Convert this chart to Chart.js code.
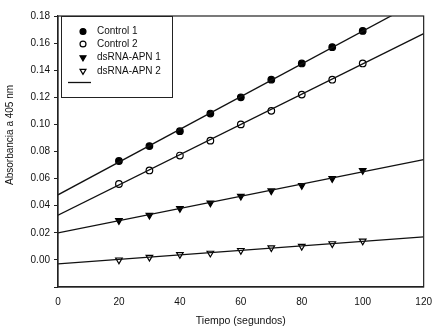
<!DOCTYPE html>
<html>
<head>
<meta charset="utf-8">
<script src="https://cdn.jsdelivr.net/npm/chart.js@4/dist/chart.umd.min.js"></script>
<style>
  html, body { margin: 0; padding: 0; background: #fff; }
  #wrap { width: 437px; height: 331px; position: relative; }
</style>
</head>
<body>
<div id="wrap"><canvas id="chart"></canvas></div>
<script>
// tiempos medidos (segundos)
const tiempos = [20, 30, 40, 50, 60, 70, 80, 90, 100];

// absorbancias
const control1 = [0.073, 0.084, 0.095, 0.108, 0.120, 0.133, 0.145, 0.157, 0.169];
const control2 = [0.056, 0.066, 0.077, 0.088, 0.100, 0.110, 0.122, 0.133, 0.145];
const dsrna1 = [0.029, 0.033, 0.038, 0.042, 0.047, 0.051, 0.055, 0.060, 0.066];
const dsrna2 = [0.000, 0.002, 0.004, 0.005, 0.007, 0.009, 0.010, 0.012, 0.014];

// rectas de ajuste: valor en t=0 y t=120
const ajusteX = [0, 120];
const ajuste1 = [0.048, 0.193];
const ajuste2 = [0.033, 0.167];
const ajuste3 = [0.020, 0.074];
const ajuste4 = [-0.003, 0.017];

const etiquetas = ['Control 1', 'Control 2', 'dsRNA-APN 1', 'dsRNA-APN 2'];
const yTicks = [0, 0.02, 0.04, 0.06, 0.08, 0.10, 0.12, 0.14, 0.16, 0.18];
const tituloY = 'Absorbancia a 405 nm';

const FONT = 'Liberation Sans, Arial, sans-serif';

const puntos = (ys) => tiempos.map((t, i) => ({ x: t, y: ys[i] }));
const recta = (ys) => ajusteX.map((t, i) => ({ x: t, y: ys[i] }));

const estilos = [
    { pointStyle: 'circle', fill: '#000', rotation: 0, radius: 3.3 },
    { pointStyle: 'circle', fill: '#fff', rotation: 0, radius: 3.3 },
    { pointStyle: 'triangle', fill: '#000', rotation: 180, radius: 3.8 },
    { pointStyle: 'triangle', fill: '#fff', rotation: 180, radius: 3.8 }
];

const series = [control1, control2, dsrna1, dsrna2];
const ajustes = [ajuste1, ajuste2, ajuste3, ajuste4];

const datasets = [];
ajustes.forEach((a) => {
    datasets.push({
        type: 'line', data: recta(a), borderColor: '#111', borderWidth: 1.3,
        pointRadius: 0, fill: false, tension: 0
    });
});
series.forEach((s, i) => {
    datasets.push({
        type: 'scatter', label: etiquetas[i], data: puntos(s),
        pointStyle: estilos[i].pointStyle, rotation: estilos[i].rotation,
        pointRadius: estilos[i].radius, pointBackgroundColor: estilos[i].fill,
        pointBorderColor: '#000', pointBorderWidth: 1.2, showLine: false
    });
});

// leyenda dibujada dentro del area del grafico, con recuadro
const leyendaInterna = {
    id: 'leyendaInterna',
    afterDraw(chart) {
        const { ctx, chartArea } = chart;
        const x0 = chartArea.left + 3, y0 = chartArea.top;
        const w = 111, h = 81;
        ctx.save();
        ctx.strokeStyle = '#222';
        ctx.lineWidth = 1;
        ctx.strokeRect(x0 + 0.5, y0 + 0.5, w, h);
        ctx.font = '10px ' + FONT;
        ctx.textBaseline = 'middle';
        const filas = [15.5, 28, 41.5, 55];
        etiquetas.forEach((txt, i) => {
            const cy = y0 + filas[i];
            ctx.fillStyle = estilos[i].fill;
            ctx.strokeStyle = '#000';
            ctx.lineWidth = 1.2;
            Chart.helpers.drawPoint(ctx, {
                pointStyle: estilos[i].pointStyle, rotation: estilos[i].rotation,
                radius: estilos[i].radius * 0.9, borderWidth: 1.2
            }, x0 + 22, cy);
            ctx.fillStyle = '#111';
            ctx.fillText(txt, x0 + 36, cy);
        });
        ctx.beginPath();
        ctx.strokeStyle = '#111';
        ctx.lineWidth = 1.3;
        ctx.moveTo(x0 + 7, y0 + 66.5);
        ctx.lineTo(x0 + 30, y0 + 66.5);
        ctx.stroke();
        ctx.restore();
    }
};

// marco completo y titulo del eje y (centrado sobre el rango rotulado)
const marco = {
    id: 'marco',
    afterDatasetsDraw(chart) {
        const { ctx, chartArea, scales } = chart;
        ctx.save();
        ctx.strokeStyle = '#222';
        ctx.lineWidth = 1.2;
        ctx.strokeRect(chartArea.left, chartArea.top, chartArea.right - chartArea.left, chartArea.bottom - chartArea.top);
        const cy = (scales.y.getPixelForValue(yTicks[0]) + scales.y.getPixelForValue(yTicks[yTicks.length - 1])) / 2 - 3;
        ctx.translate(10, cy);
        ctx.rotate(-Math.PI / 2);
        ctx.font = '10px ' + FONT;
        ctx.fillStyle = '#111';
        ctx.textAlign = 'center';
        ctx.textBaseline = 'middle';
        ctx.fillText(tituloY, 0, 0);
        ctx.restore();
    }
};

new Chart(document.getElementById('chart'), {
    type: 'scatter',
    data: { datasets },
    plugins: [marco, leyendaInterna],
    options: {
        responsive: true,
        maintainAspectRatio: false,
        animation: false,
        layout: { padding: { top: 16, right: 10, left: 0, bottom: 0 } },
        plugins: { legend: { display: false }, tooltip: { enabled: false } },
        elements: { point: { hoverRadius: 3 } },
        scales: {
            x: {
                type: 'linear', min: 0, max: 120,
                border: { color: '#222', width: 1.2 },
                grid: { display: false, drawOnChartArea: false, drawTicks: true, tickLength: 4, color: '#222' },
                ticks: { stepSize: 20, color: '#111', padding: 5, font: { family: FONT, size: 10 } },
                title: { display: true, text: 'Tiempo (segundos)', color: '#111', padding: { top: 6 }, font: { family: FONT, size: 10.5 } },
                afterFit(scale) { scale.height = 44; }
            },
            y: {
                type: 'linear', min: -0.02, max: 0.18,
                border: { color: '#222', width: 1.2 },
                grid: { display: true, drawOnChartArea: false, drawTicks: true, tickLength: 4, color: '#222' },
                afterBuildTicks(scale) { scale.ticks = [-0.02].concat(yTicks).map(v => ({ value: v })); },
                ticks: {
                    color: '#111', padding: 4, font: { family: FONT, size: 10 },
                    callback: (v) => v < -0.001 ? '' : v.toFixed(2)
                },
                title: { display: false },
                afterFit(scale) { scale.width = 58; }
            }
        }
    }
});
</script>
</body>
</html>
